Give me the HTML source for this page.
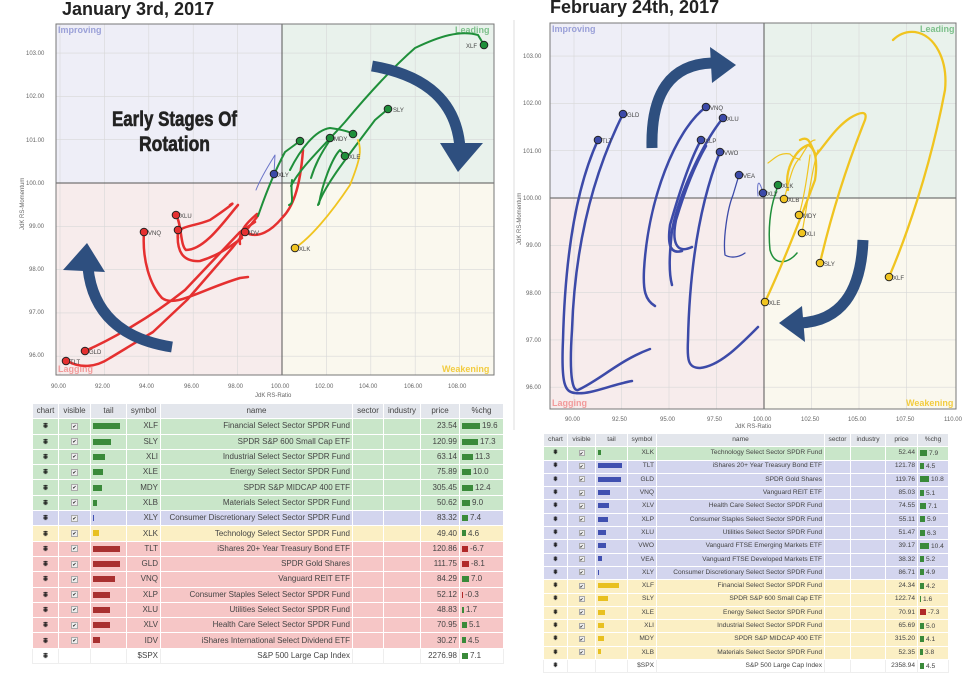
<!DOCTYPE html>
<html><head><meta charset="utf-8"><style>
*{margin:0;padding:0;box-sizing:border-box}
body{width:962px;height:672px;background:#fff;position:relative;overflow:hidden;font-family:"Liberation Sans",sans-serif}
svg{position:absolute;left:0;top:0}
.tb{position:absolute;border-collapse:collapse;table-layout:fixed;color:#444}
.tb td{border:1px solid #fff;white-space:nowrap;overflow:hidden;text-align:center;padding:0 2px;line-height:1}
.tb td.r{text-align:right}
.tb td.l{text-align:left}
.tb tr.h td{background:#e3e6ec}
.g td{background:#c9e6c9}.b td{background:#d3d5ee}.y td{background:#fbefc4}.rd td{background:#f6c6c6}.w td{background:#fff;border-color:#eee}
i{display:inline-block;vertical-align:middle}
.t1 td{height:15.3px;font-size:8px}
.t2 td{height:13.3px;font-size:6.6px}
.c{font-weight:bold;color:#111}
.k{display:inline-block;width:7px;height:7px;border:1px solid #aaa;background:#eee;font-size:5px;line-height:6px;color:#222;vertical-align:middle}
.t2 .k{width:6px;height:6px;line-height:5px;font-size:4.5px}
.p{text-align:left!important}
.p i{background:#3a8a3a;height:6px;margin-right:2px}
.p i.n{background:#b02828}
</style></head><body>
<svg width="962" height="672" viewBox="0 0 962 672">
<text x="62" y="15" font-family="Liberation Sans" font-weight="bold" font-size="18" fill="#222">January 3rd, 2017</text>
<text x="550" y="13" font-family="Liberation Sans" font-weight="bold" font-size="18" fill="#222">February 24th, 2017</text>
<!-- left chart -->
<rect x="56" y="24" width="226" height="159" fill="#eeeef7"/>
<rect x="282" y="24" width="212" height="159" fill="#e9f2ec"/>
<rect x="56" y="183" width="226" height="192" fill="#f7ecec"/>
<rect x="282" y="183" width="212" height="192" fill="#faf8ee"/>
<g stroke="#d8d8d8" stroke-width="0.6">
<path d="M60 24V375M104.4 24V375M148.8 24V375M193.2 24V375M237.6 24V375M326.4 24V375M370.8 24V375M415.2 24V375M459.6 24V375"/>
<path d="M56 53.1H494M56 96.4H494M56 139.7H494M56 226.3H494M56 269.6H494M56 312.9H494M56 356.2H494"/>
</g>
<path d="M282 24V375M56 183H494" stroke="#555" stroke-width="1"/>
<rect x="56" y="24" width="438" height="351" fill="none" stroke="#777"/>
<g font-size="6" fill="#666" font-family="Liberation Sans">
<text x="26" y="55">103.00</text><text x="26" y="98">102.00</text><text x="26" y="142">101.00</text><text x="26" y="185">100.00</text><text x="29" y="228">99.00</text><text x="29" y="271">98.00</text><text x="29" y="314">97.00</text><text x="29" y="357">96.00</text>
<text x="51" y="388">90.00</text><text x="95" y="388">92.00</text><text x="139" y="388">94.00</text><text x="184" y="388">96.00</text><text x="228" y="388">98.00</text><text x="271" y="388">100.00</text><text x="315" y="388">102.00</text><text x="359" y="388">104.00</text><text x="404" y="388">106.00</text><text x="448" y="388">108.00</text>
<text x="255" y="397">JdK RS-Ratio</text>
<text transform="translate(24,230) rotate(-90)">JdK RS-Momentum</text>
</g>
<g font-size="9" font-weight="bold" font-family="Liberation Sans">
<text x="58" y="33" fill="#9aa0d8">Improving</text><text x="455" y="33" fill="#7cc08a">Leading</text>
<text x="58" y="372" fill="#f29a9a">Lagging</text><text x="442" y="372" fill="#f2cc40">Weakening</text>
</g>
<g fill="none" stroke-linecap="round" stroke-linejoin="round">
<g stroke="#e53030" stroke-width="2.5">
<path d="M67,361 C80,368 95,368 110,358 L153,332 L187,300 L233,247 L257,217"/>
<path d="M85,351 C110,340 150,318 185,290 L240,232 L255,222"/>
<path d="M144,232 C142,260 150,285 162,298 C175,308 200,290 240,278 L248,277"/>
<path d="M176,215 C182,225 180,245 186,250 C205,250 225,220 238,205"/>
<path d="M178,230 C176,252 183,262 200,261 C220,255 232,245 242,238"/>
<path d="M245,232 C258,240 272,230 282,218 C292,208 300,190 303,150"/>
<path d="M178,238 C176,225 190,228 210,220 C225,210 238,200 230,205"/>
<path d="M240,244 C238,230 250,220 257,214"/>
</g>
<g stroke="#1f8f3a" stroke-width="2">
<path d="M291,186 C300,168 320,150 345,122 C365,98 390,70 415,48 C440,36 460,30 478,35 L484,45"/>
<path d="M318,205 C325,185 345,160 375,120 L388,109"/>
<path d="M290,170 C300,150 315,130 330,128 C345,130 350,132 353,134"/>
<path d="M311,178 C315,165 320,155 330,140"/>
<path d="M319,204 C322,185 332,158 340,150 L345,156"/>
<path d="M258,216 C262,205 270,180 285,152 L300,141"/>
<path d="M289,205 C295,203 290,195 292,180"/>
</g>
<path d="M295,248 C310,238 330,215 350,185 C360,160 362,150 358,140" stroke="#f0c420" stroke-width="1.8"/>
<path d="M256,190 C262,175 272,160 275,155 L274,174" stroke="#6a74c8" stroke-width="1"/>
</g>
<g stroke="#222" stroke-width="1">
<circle cx="484" cy="45" r="3.8" fill="#1f8f3a"/><circle cx="388" cy="109" r="3.8" fill="#1f8f3a"/><circle cx="353" cy="134" r="3.8" fill="#1f8f3a"/><circle cx="330" cy="138" r="3.8" fill="#1f8f3a"/><circle cx="345" cy="156" r="3.8" fill="#1f8f3a"/><circle cx="300" cy="141" r="3.8" fill="#1f8f3a"/>
<circle cx="274" cy="174" r="3.8" fill="#3c4aa8"/><circle cx="295" cy="248" r="3.8" fill="#f0c420"/>
<circle cx="66" cy="361" r="3.8" fill="#e53030"/><circle cx="85" cy="351" r="3.8" fill="#e53030"/><circle cx="144" cy="232" r="3.8" fill="#e53030"/><circle cx="176" cy="215" r="3.8" fill="#e53030"/><circle cx="178" cy="230" r="3.8" fill="#e53030"/><circle cx="245" cy="232" r="3.8" fill="#e53030"/>
</g>
<g font-size="6" fill="#444"><text x="466" y="48">XLF</text><text x="393" y="112">SLY</text><text x="334" y="141">MDY</text><text x="349" y="159">XLE</text><text x="278" y="177">XLY</text><text x="299" y="251">XLK</text><text x="70" y="364">TLT</text><text x="89" y="354">GLD</text><text x="148" y="235">VNQ</text><text x="180" y="218">XLU</text><text x="249" y="235">IDV</text></g>
<g fill="#2e4f7f">
<path d="M172,347 Q95,335 88,268" fill="none" stroke="#2e4f7f" stroke-width="11"/>
<polygon points="63,270 87,243 105,272"/>
<path d="M372,66 Q455,80 460,148" fill="none" stroke="#2e4f7f" stroke-width="11"/>
<polygon points="440,143 458,172 483,143"/>
</g>
<g font-family="'Liberation Sans',sans-serif" font-weight="bold" font-size="21" fill="#222" stroke="#222" stroke-width="0.6" lengthAdjust="spacingAndGlyphs">
<text x="112" y="126" textLength="125" lengthAdjust="spacingAndGlyphs">Early Stages Of</text><text x="139" y="151" textLength="71" lengthAdjust="spacingAndGlyphs">Rotation</text></g>
<!-- right chart -->
<line x1="514" y1="20" x2="514" y2="430" stroke="#ddd"/>
<rect x="550" y="23" width="214" height="175" fill="#eeeef7"/>
<rect x="764" y="23" width="192" height="175" fill="#e9f2ec"/>
<rect x="550" y="198" width="214" height="211" fill="#f7ecec"/>
<rect x="764" y="198" width="192" height="211" fill="#faf8ee"/>
<g stroke="#d8d8d8" stroke-width="0.6">
<path d="M574 23V409M621.5 23V409M669 23V409M716.5 23V409M811.5 23V409M859 23V409M906.5 23V409"/>
<path d="M550 56.1H956M550 103.4H956M550 150.7H956M550 245.3H956M550 292.6H956M550 339.9H956M550 387.2H956"/>
</g>
<path d="M764 23V409M550 198H956" stroke="#555"/>
<rect x="550" y="23" width="406" height="386" fill="none" stroke="#777"/>
<g font-size="6" fill="#666">
<text x="523" y="58">103.00</text><text x="523" y="105">102.00</text><text x="523" y="153">101.00</text><text x="523" y="200">100.00</text><text x="526" y="247">99.00</text><text x="526" y="295">98.00</text><text x="526" y="342">97.00</text><text x="526" y="389">96.00</text>
<text x="565" y="421">90.00</text><text x="612" y="421">92.50</text><text x="660" y="421">95.00</text><text x="707" y="421">97.50</text><text x="753" y="421">100.00</text><text x="801" y="421">102.50</text><text x="848" y="421">105.00</text><text x="896" y="421">107.50</text><text x="944" y="421">110.00</text>
<text x="735" y="428">JdK RS-Ratio</text>
<text transform="translate(521,245) rotate(-90)">JdK RS-Momentum</text>
</g>
<g font-size="9" font-weight="bold">
<text x="552" y="32" fill="#9aa0d8">Improving</text><text x="920" y="32" fill="#7cc08a">Leading</text>
<text x="552" y="406" fill="#f29a9a">Lagging</text><text x="906" y="406" fill="#f2cc40">Weakening</text>
</g>
<g fill="none" stroke-linecap="round" stroke-linejoin="round">
<g stroke="#3c4aa8" stroke-width="2.5">
<path d="M632,381 C610,385 590,395 575,393 C565,392 561,385 563,340 C565,260 575,190 598,140"/>
<path d="M650,349 C620,360 600,380 578,390 C570,392 570,360 572,330 C575,240 595,170 623,114"/>
<path d="M655,306 C645,300 643,290 644,270 C648,200 675,130 706,107"/>
<path d="M672,285 C668,270 670,250 672,230 C680,190 705,140 723,118"/>
<path d="M682,251 C668,255 668,240 670,225 C680,190 690,160 701,140"/>
<path d="M692,247 C675,255 672,240 676,220 C685,190 695,165 706,146"/>
<path d="M758,327 C740,345 720,366 700,368 C688,368 687,360 688,340 C690,250 705,190 720,152"/>
</g>
<path d="M745,253 C738,258 730,258 725,255 C723,240 727,210 733,195 L739,175" stroke="#3c4aa8" stroke-width="1.3"/>
<path d="M758,196 C757,185 758,175 763,193" stroke="#6a74c8" stroke-width="1"/>
<path d="M797,253 C790,262 775,268 770,250 C768,230 770,210 775,195 L778,185" stroke="#1f8f3a" stroke-width="1.5"/>
<g stroke="#f0c420" stroke-width="2.3">
<path d="M889,277 C905,240 930,170 945,90 C948,60 935,35 915,32 C905,31 898,35 893,40"/>
<path d="M820,263 C830,220 845,170 865,120 C868,110 860,112 850,118 C835,128 825,145 816,155 C810,145 810,135 800,140"/>
<path d="M765,302 C780,270 800,220 815,180 C818,160 815,148 808,145 C795,150 784,170 788,190"/>
</g>
<g stroke="#f0c420" stroke-width="1.2">
<path d="M784,199 C790,180 792,165 800,158 C805,150 810,140 815,140"/>
<path d="M799,215 C805,195 808,170 810,155"/>
<path d="M802,233 C808,200 812,170 818,150"/>
<path d="M768,163 C775,158 780,152 790,154 C795,160 800,158 800,160"/>
</g>
</g>
<g stroke="#222" stroke-width="1">
<circle cx="598" cy="140" r="3.8" fill="#3c4aa8"/><circle cx="623" cy="114" r="3.8" fill="#3c4aa8"/><circle cx="706" cy="107" r="3.8" fill="#3c4aa8"/><circle cx="723" cy="118" r="3.8" fill="#3c4aa8"/><circle cx="701" cy="140" r="3.8" fill="#3c4aa8"/><circle cx="720" cy="152" r="3.8" fill="#3c4aa8"/><circle cx="739" cy="175" r="3.8" fill="#3c4aa8"/><circle cx="763" cy="193" r="3.8" fill="#3c4aa8"/>
<circle cx="778" cy="185" r="3.8" fill="#1f8f3a"/>
<circle cx="784" cy="199" r="3.8" fill="#f0c420"/><circle cx="799" cy="215" r="3.8" fill="#f0c420"/><circle cx="802" cy="233" r="3.8" fill="#f0c420"/><circle cx="820" cy="263" r="3.8" fill="#f0c420"/><circle cx="889" cy="277" r="3.8" fill="#f0c420"/><circle cx="765" cy="302" r="3.8" fill="#f0c420"/>
</g>
<g font-size="6" fill="#444"><text x="602" y="143">TLT</text><text x="627" y="117">GLD</text><text x="710" y="110">VNQ</text><text x="727" y="121">XLU</text><text x="705" y="143">XLP</text><text x="724" y="155">VWO</text><text x="743" y="178">VEA</text><text x="767" y="196">XLY</text><text x="782" y="188">XLK</text><text x="788" y="202">XLB</text><text x="803" y="218">MDY</text><text x="806" y="236">XLI</text><text x="824" y="266">SLY</text><text x="893" y="280">XLF</text><text x="769" y="305">XLE</text></g>
<g fill="#2e4f7f">
<path d="M652,148 Q650,65 712,63" fill="none" stroke="#2e4f7f" stroke-width="11"/>
<polygon points="710,47 736,65 712,83"/>
<path d="M863,240 Q860,320 800,323" fill="none" stroke="#2e4f7f" stroke-width="11"/>
<polygon points="802,306 779,323 805,342"/>
</g>
</svg>

<table class="tb t1" style="left:32px;top:403px;width:471px">
<colgroup><col style="width:26px"><col style="width:32px"><col style="width:36px"><col style="width:34px"><col style="width:192px"><col style="width:31px"><col style="width:37px"><col style="width:39px"><col style="width:44px"></colgroup>
<tr class="h"><td>chart</td><td>visible</td><td>tail</td><td>symbol</td><td>name</td><td>sector</td><td>industry</td><td>price</td><td>%chg</td></tr>
<tr class="g"><td class="c">⩨</td><td><span class="k">✔</span></td><td class="l"><i style="width:27px;height:6px;background:#3a8a3a"></i></td><td class="r">XLF</td><td class="r">Financial Select Sector SPDR Fund</td><td></td><td></td><td class="r">23.54</td><td class="p"><i style="width:18px"></i>19.6</td></tr>
<tr class="g"><td class="c">⩨</td><td><span class="k">✔</span></td><td class="l"><i style="width:18px;height:6px;background:#3a8a3a"></i></td><td class="r">SLY</td><td class="r">SPDR S&amp;P 600 Small Cap ETF</td><td></td><td></td><td class="r">120.99</td><td class="p"><i style="width:16px"></i>17.3</td></tr>
<tr class="g"><td class="c">⩨</td><td><span class="k">✔</span></td><td class="l"><i style="width:12px;height:6px;background:#3a8a3a"></i></td><td class="r">XLI</td><td class="r">Industrial Select Sector SPDR Fund</td><td></td><td></td><td class="r">63.14</td><td class="p"><i style="width:11px"></i>11.3</td></tr>
<tr class="g"><td class="c">⩨</td><td><span class="k">✔</span></td><td class="l"><i style="width:10px;height:6px;background:#3a8a3a"></i></td><td class="r">XLE</td><td class="r">Energy Select Sector SPDR Fund</td><td></td><td></td><td class="r">75.89</td><td class="p"><i style="width:9px"></i>10.0</td></tr>
<tr class="g"><td class="c">⩨</td><td><span class="k">✔</span></td><td class="l"><i style="width:9px;height:6px;background:#3a8a3a"></i></td><td class="r">MDY</td><td class="r">SPDR S&amp;P MIDCAP 400 ETF</td><td></td><td></td><td class="r">305.45</td><td class="p"><i style="width:11px"></i>12.4</td></tr>
<tr class="g"><td class="c">⩨</td><td><span class="k">✔</span></td><td class="l"><i style="width:4px;height:6px;background:#3a8a3a"></i></td><td class="r">XLB</td><td class="r">Materials Select Sector SPDR Fund</td><td></td><td></td><td class="r">50.62</td><td class="p"><i style="width:8px"></i>9.0</td></tr>
<tr class="b"><td class="c">⩨</td><td><span class="k">✔</span></td><td class="l"><i style="width:1px;height:6px;background:#4050b0"></i></td><td class="r">XLY</td><td class="r">Consumer Discretionary Select Sector SPDR Fund</td><td></td><td></td><td class="r">83.32</td><td class="p"><i style="width:6px"></i>7.4</td></tr>
<tr class="y"><td class="c">⩨</td><td><span class="k">✔</span></td><td class="l"><i style="width:6px;height:6px;background:#e8c020"></i></td><td class="r">XLK</td><td class="r">Technology Select Sector SPDR Fund</td><td></td><td></td><td class="r">49.40</td><td class="p"><i style="width:4px"></i>4.6</td></tr>
<tr class="rd"><td class="c">⩨</td><td><span class="k">✔</span></td><td class="l"><i style="width:27px;height:6px;background:#a83030"></i></td><td class="r">TLT</td><td class="r">iShares 20+ Year Treasury Bond ETF</td><td></td><td></td><td class="r">120.86</td><td class="p"><i class="n" style="width:6px"></i>-6.7</td></tr>
<tr class="rd"><td class="c">⩨</td><td><span class="k">✔</span></td><td class="l"><i style="width:27px;height:6px;background:#a83030"></i></td><td class="r">GLD</td><td class="r">SPDR Gold Shares</td><td></td><td></td><td class="r">111.75</td><td class="p"><i class="n" style="width:7px"></i>-8.1</td></tr>
<tr class="rd"><td class="c">⩨</td><td><span class="k">✔</span></td><td class="l"><i style="width:22px;height:6px;background:#a83030"></i></td><td class="r">VNQ</td><td class="r">Vanguard REIT ETF</td><td></td><td></td><td class="r">84.29</td><td class="p"><i style="width:7px"></i>7.0</td></tr>
<tr class="rd"><td class="c">⩨</td><td><span class="k">✔</span></td><td class="l"><i style="width:17px;height:6px;background:#a83030"></i></td><td class="r">XLP</td><td class="r">Consumer Staples Select Sector SPDR Fund</td><td></td><td></td><td class="r">52.12</td><td class="p"><i class="n" style="width:1px"></i>-0.3</td></tr>
<tr class="rd"><td class="c">⩨</td><td><span class="k">✔</span></td><td class="l"><i style="width:17px;height:6px;background:#a83030"></i></td><td class="r">XLU</td><td class="r">Utilities Select Sector SPDR Fund</td><td></td><td></td><td class="r">48.83</td><td class="p"><i style="width:2px"></i>1.7</td></tr>
<tr class="rd"><td class="c">⩨</td><td><span class="k">✔</span></td><td class="l"><i style="width:17px;height:6px;background:#a83030"></i></td><td class="r">XLV</td><td class="r">Health Care Select Sector SPDR Fund</td><td></td><td></td><td class="r">70.95</td><td class="p"><i style="width:5px"></i>5.1</td></tr>
<tr class="rd"><td class="c">⩨</td><td><span class="k">✔</span></td><td class="l"><i style="width:7px;height:6px;background:#a83030"></i></td><td class="r">IDV</td><td class="r">iShares International Select Dividend ETF</td><td></td><td></td><td class="r">30.27</td><td class="p"><i style="width:4px"></i>4.5</td></tr>
<tr class="w"><td class="c" style="height:12px">⩨</td><td></td><td></td><td class="r">$SPX</td><td class="r">S&amp;P 500 Large Cap Index</td><td></td><td></td><td class="r">2276.98</td><td class="p"><i style="width:6px"></i>7.1</td></tr>
</table>

<table class="tb t2" style="left:543px;top:433px;width:405px">
<colgroup><col style="width:24px"><col style="width:28px"><col style="width:32px"><col style="width:29px"><col style="width:168px"><col style="width:26px"><col style="width:35px"><col style="width:32px"><col style="width:31px"></colgroup>
<tr class="h"><td>chart</td><td>visible</td><td>tail</td><td>symbol</td><td>name</td><td>sector</td><td>industry</td><td>price</td><td>%chg</td></tr>
<tr class="g"><td class="c">⩨</td><td><span class="k">✔</span></td><td class="l"><i style="width:3px;height:5px;background:#3a8a3a"></i></td><td class="r">XLK</td><td class="r">Technology Select Sector SPDR Fund</td><td></td><td></td><td class="r">52.44</td><td class="p"><i style="width:7px"></i>7.9</td></tr>
<tr class="b"><td class="c">⩨</td><td><span class="k">✔</span></td><td class="l"><i style="width:24px;height:5px;background:#4050b0"></i></td><td class="r">TLT</td><td class="r">iShares 20+ Year Treasury Bond ETF</td><td></td><td></td><td class="r">121.78</td><td class="p"><i style="width:4px"></i>4.5</td></tr>
<tr class="b"><td class="c">⩨</td><td><span class="k">✔</span></td><td class="l"><i style="width:23px;height:5px;background:#4050b0"></i></td><td class="r">GLD</td><td class="r">SPDR Gold Shares</td><td></td><td></td><td class="r">119.76</td><td class="p"><i style="width:9px"></i>10.8</td></tr>
<tr class="b"><td class="c">⩨</td><td><span class="k">✔</span></td><td class="l"><i style="width:12px;height:5px;background:#4050b0"></i></td><td class="r">VNQ</td><td class="r">Vanguard REIT ETF</td><td></td><td></td><td class="r">85.03</td><td class="p"><i style="width:4px"></i>5.1</td></tr>
<tr class="b"><td class="c">⩨</td><td><span class="k">✔</span></td><td class="l"><i style="width:11px;height:5px;background:#4050b0"></i></td><td class="r">XLV</td><td class="r">Health Care Select Sector SPDR Fund</td><td></td><td></td><td class="r">74.55</td><td class="p"><i style="width:6px"></i>7.1</td></tr>
<tr class="b"><td class="c">⩨</td><td><span class="k">✔</span></td><td class="l"><i style="width:10px;height:5px;background:#4050b0"></i></td><td class="r">XLP</td><td class="r">Consumer Staples Select Sector SPDR Fund</td><td></td><td></td><td class="r">55.11</td><td class="p"><i style="width:5px"></i>5.9</td></tr>
<tr class="b"><td class="c">⩨</td><td><span class="k">✔</span></td><td class="l"><i style="width:8px;height:5px;background:#4050b0"></i></td><td class="r">XLU</td><td class="r">Utilities Select Sector SPDR Fund</td><td></td><td></td><td class="r">51.47</td><td class="p"><i style="width:5px"></i>6.3</td></tr>
<tr class="b"><td class="c">⩨</td><td><span class="k">✔</span></td><td class="l"><i style="width:8px;height:5px;background:#4050b0"></i></td><td class="r">VWO</td><td class="r">Vanguard FTSE Emerging Markets ETF</td><td></td><td></td><td class="r">39.17</td><td class="p"><i style="width:9px"></i>10.4</td></tr>
<tr class="b"><td class="c">⩨</td><td><span class="k">✔</span></td><td class="l"><i style="width:4px;height:5px;background:#4050b0"></i></td><td class="r">VEA</td><td class="r">Vanguard FTSE Developed Markets ETF</td><td></td><td></td><td class="r">38.32</td><td class="p"><i style="width:4px"></i>5.2</td></tr>
<tr class="b"><td class="c">⩨</td><td><span class="k">✔</span></td><td class="l"><i style="width:1px;height:5px;background:#4050b0"></i></td><td class="r">XLY</td><td class="r">Consumer Discretionary Select Sector SPDR Fund</td><td></td><td></td><td class="r">86.71</td><td class="p"><i style="width:4px"></i>4.9</td></tr>
<tr class="y"><td class="c">⩨</td><td><span class="k">✔</span></td><td class="l"><i style="width:21px;height:5px;background:#e8c020"></i></td><td class="r">XLF</td><td class="r">Financial Select Sector SPDR Fund</td><td></td><td></td><td class="r">24.34</td><td class="p"><i style="width:4px"></i>4.2</td></tr>
<tr class="y"><td class="c">⩨</td><td><span class="k">✔</span></td><td class="l"><i style="width:10px;height:5px;background:#e8c020"></i></td><td class="r">SLY</td><td class="r">SPDR S&amp;P 600 Small Cap ETF</td><td></td><td></td><td class="r">122.74</td><td class="p"><i style="width:1px"></i>1.6</td></tr>
<tr class="y"><td class="c">⩨</td><td><span class="k">✔</span></td><td class="l"><i style="width:7px;height:5px;background:#e8c020"></i></td><td class="r">XLE</td><td class="r">Energy Select Sector SPDR Fund</td><td></td><td></td><td class="r">70.91</td><td class="p"><i class="n" style="width:6px"></i>-7.3</td></tr>
<tr class="y"><td class="c">⩨</td><td><span class="k">✔</span></td><td class="l"><i style="width:6px;height:5px;background:#e8c020"></i></td><td class="r">XLI</td><td class="r">Industrial Select Sector SPDR Fund</td><td></td><td></td><td class="r">65.69</td><td class="p"><i style="width:4px"></i>5.0</td></tr>
<tr class="y"><td class="c">⩨</td><td><span class="k">✔</span></td><td class="l"><i style="width:6px;height:5px;background:#e8c020"></i></td><td class="r">MDY</td><td class="r">SPDR S&amp;P MIDCAP 400 ETF</td><td></td><td></td><td class="r">315.20</td><td class="p"><i style="width:4px"></i>4.1</td></tr>
<tr class="y"><td class="c">⩨</td><td><span class="k">✔</span></td><td class="l"><i style="width:3px;height:5px;background:#e8c020"></i></td><td class="r">XLB</td><td class="r">Materials Select Sector SPDR Fund</td><td></td><td></td><td class="r">52.35</td><td class="p"><i style="width:3px"></i>3.8</td></tr>
<tr class="w"><td class="c">⩨</td><td></td><td></td><td class="r">$SPX</td><td class="r">S&amp;P 500 Large Cap Index</td><td></td><td></td><td class="r">2358.94</td><td class="p"><i style="width:4px"></i>4.5</td></tr>
</table>
</body></html>
